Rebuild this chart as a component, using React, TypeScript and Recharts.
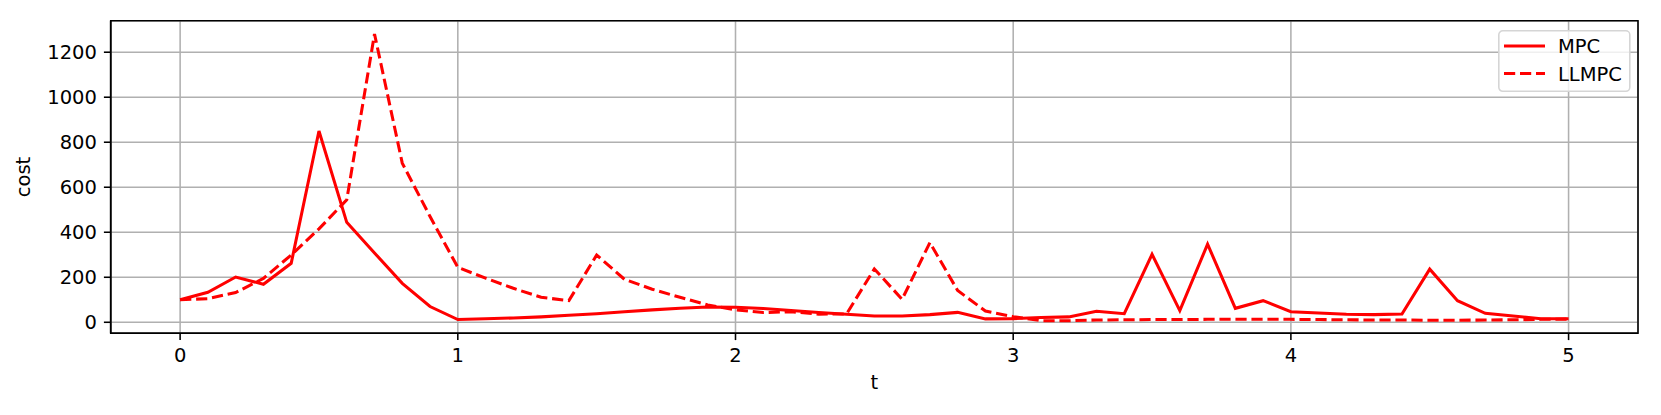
import React from 'react';
import { LineChart, Line, XAxis, YAxis, CartesianGrid, Legend, ReferenceArea } from 'recharts';

const tValues = [
  0, 0.1, 0.2, 0.3, 0.4, 0.5, 0.6, 0.7, 0.8, 0.9,
  1, 1.1, 1.2, 1.3, 1.4, 1.5, 1.6, 1.7, 1.8, 1.9,
  2, 2.1, 2.2, 2.3, 2.4, 2.5, 2.6, 2.7, 2.8, 2.9,
  3, 3.1, 3.2, 3.3, 3.4, 3.5, 3.6, 3.7, 3.8, 3.9,
  4, 4.1, 4.2, 4.3, 4.4, 4.5, 4.6, 4.7, 4.8, 4.9, 5,
];

const mpcValues = [
  100, 133, 201, 169, 262, 850, 444, 308, 173, 70,
  12, 16, 19, 24, 31, 38, 47, 55, 62, 68,
  67, 61, 52, 43, 36, 28, 28, 34, 44, 15,
  16, 21, 24, 49, 38, 302, 52, 347, 62, 96,
  47, 41, 36, 34, 37, 236, 96, 40, 28, 16, 16,
];

const llmpcValues = [
  100, 105, 132, 195, 299, 415, 544, 1281, 707, 470,
  244, 196, 151, 111, 96, 299, 191, 147, 111, 77,
  55, 43, 47, 36, 37, 237, 102, 354, 141, 50,
  25, 7, 7, 10, 11, 12, 12, 13, 13, 13,
  13, 12, 11, 10, 10, 9, 9, 10, 11, 13, 14,
];

const xTicks = [0, 1, 2, 3, 4, 5];
const yTicks = [0, 200, 400, 600, 800, 1000, 1200];
const seriesNames = ['MPC', 'LLMPC'];

const data = tValues.map((t, i) => ({ t, mpc: mpcValues[i], llmpc: llmpcValues[i] }));

const FONT = 'DejaVu Sans';
const FS = 19.5;
const RED = '#ff0000';
const LW = 3.05;
const DASH = '11.2 4.8';
const AXLW = 1.56;

const X_DOMAIN: [number, number] = [-0.25, 5.25];
const Y_DOMAIN: [number, number] = [-49, 1340];

const renderLegend = () => (
  <svg width={133} height={63} style={{ display: 'block', overflow: 'visible' }}>
    <rect x={0.8} y={0.8} width={131} height={60.5} rx={4} ry={4}
      fill="#ffffff" fillOpacity={0.8} stroke="#d5d5d5" strokeWidth={AXLW} />
    <line x1={6} x2={47} y1={16} y2={16} stroke={RED} strokeWidth={LW} />
    <text x={60} y={22.5} fontFamily={FONT} fontSize={FS} fill="#000">{seriesNames[0]}</text>
    <line x1={6} x2={47} y1={43.5} y2={43.5} stroke={RED} strokeWidth={LW} strokeDasharray={DASH} />
    <text x={60} y={50.7} fontFamily={FONT} fontSize={FS} fill="#000">{seriesNames[1]}</text>
  </svg>
);

export default function App() {
  return (
    <div style={{ position: 'absolute', left: 0, top: 0, width: 1661, height: 415, background: '#fff' }}>
      <LineChart
        width={1661}
        height={415}
        data={data}
        margin={{ top: 20.7, right: 23, bottom: 21.7, left: 0 }}
      >
        <CartesianGrid stroke="#b0b0b0" strokeWidth={AXLW} />
        <XAxis
          dataKey="t"
          type="number"
          domain={X_DOMAIN}
          ticks={xTicks}
          allowDataOverflow
          interval={0}
          height={60}
          tickSize={6.8}
          tickMargin={8.3}
          axisLine={{ stroke: '#000', strokeWidth: AXLW }}
          tickLine={{ stroke: '#000', strokeWidth: AXLW }}
          tick={{ fill: '#000', fontSize: FS, fontFamily: FONT }}
          label={{ value: 't', position: 'insideBottom', offset: 4, style: { fill: '#000', fontSize: FS, fontFamily: FONT } }}
        />
        <YAxis
          type="number"
          domain={Y_DOMAIN}
          ticks={yTicks}
          allowDataOverflow
          interval={0}
          width={110.7}
          tickSize={6.8}
          tickMargin={7}
          axisLine={{ stroke: '#000', strokeWidth: AXLW }}
          tickLine={{ stroke: '#000', strokeWidth: AXLW }}
          tick={{ fill: '#000', fontSize: FS, fontFamily: FONT }}
          label={{ value: 'cost', angle: -90, position: 'insideLeft', offset: 23.5, style: { fill: '#000', fontSize: FS, fontFamily: FONT, textAnchor: 'middle' } }}
        />
        <ReferenceArea
          x1={X_DOMAIN[0]}
          x2={X_DOMAIN[1]}
          y1={Y_DOMAIN[0]}
          y2={Y_DOMAIN[1]}
          fill="none"
          stroke="#000"
          strokeWidth={AXLW}
          ifOverflow="visible"
        />
        <Line type="linear" dataKey="mpc" name={seriesNames[0]} stroke={RED} strokeWidth={LW} dot={false} isAnimationActive={false} />
        <Line type="linear" dataKey="llmpc" name={seriesNames[1]} stroke={RED} strokeWidth={LW} strokeDasharray={DASH} dot={false} isAnimationActive={false} />
        <Legend
          layout="vertical"
          align="center"
          verticalAlign="middle"
          content={renderLegend}
          wrapperStyle={{ position: 'absolute', left: 1498, top: 30, width: 133, height: 63 }}
        />
      </LineChart>
    </div>
  );
}
